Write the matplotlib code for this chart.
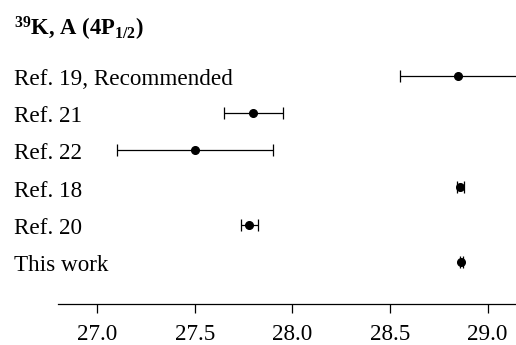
import matplotlib
matplotlib.use("Agg")
import matplotlib.pyplot as plt
import matplotlib.transforms as mtransforms

# ==============================
# 1. DATA
# ==============================

labels = ["Ref. 19, Recommended", "Ref. 21", "Ref. 22", "Ref. 18", "Ref. 20", "This work"]
values = [28.85, 27.80, 27.50, 28.86, 27.78, 28.865]
errors = [0.30, 0.15, 0.40, 0.017, 0.045, 0.008]
xticks = [27.0, 27.5, 28.0, 28.5, 29.0]

# ==============================
# 2. STYLE
# ==============================

plt.rcParams["font.family"] = "Liberation Serif"
plt.rcParams["mathtext.fontset"] = "custom"
plt.rcParams["mathtext.rm"] = "Liberation Serif:bold"
plt.rcParams["mathtext.bf"] = "Liberation Serif:bold"
plt.rcParams["mathtext.default"] = "bf"

# ==============================
# 3. PLOT
# ==============================

fig = plt.figure(figsize=(5.16, 3.45), dpi=100)
ax = fig.add_axes([58 / 516, 41 / 345, 458 / 516, 264 / 345])

# rows from top to bottom
ypos = list(range(len(labels) - 1, -1, -1))

ax.errorbar(values, ypos, xerr=errors, fmt="o", color="black",
            markersize=5.5, elinewidth=0.9, capsize=4.3, capthick=0.9)

# label baseline sits a bit below the marker row
shift = mtransforms.ScaledTranslation(0, -9.3 / 100, fig.dpi_scale_trans)
for lab, y in zip(labels, ypos):
    ax.text(-44 / 458, y, lab, transform=ax.get_yaxis_transform() + shift,
            ha="left", va="baseline", fontsize=16.7, clip_on=False)

fig.text(14 / 516, 1 - 36 / 345, "$^{39}$K, A (4P$_{1/2}$)",
         ha="left", va="baseline", fontsize=16.3, fontweight="bold")

ax.set_xlim(26.8, 29.145)
ax.set_ylim(-1.137, 5.96)
ax.set_xticks(xticks)
ax.set_xticklabels([f"{t:.1f}" for t in xticks])
ax.set_yticks([])
ax.tick_params(axis="x", direction="out", length=6.5, width=0.9,
               labelsize=16.7, pad=8)

for side in ["top", "left", "right"]:
    ax.spines[side].set_visible(False)
ax.spines["bottom"].set_linewidth(0.9)

plt.savefig("out.png", dpi=100)
